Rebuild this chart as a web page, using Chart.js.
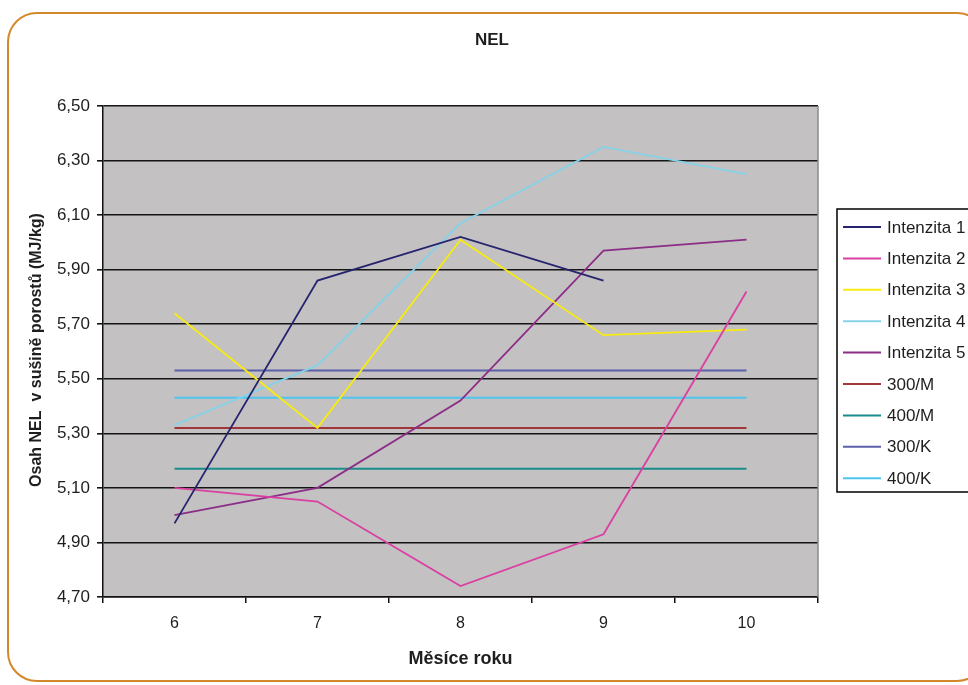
<!DOCTYPE html>
<html>
<head>
<meta charset="utf-8">
<script src="https://cdn.jsdelivr.net/npm/chart.js@4/dist/chart.umd.min.js"></script>
<style>
  html, body { margin: 0; padding: 0; background: #ffffff; overflow: hidden; }
  #wrap { position: relative; width: 968px; height: 685px; overflow: hidden; }
  #frame {
    position: absolute; left: 7px; top: 12px; width: 980px; height: 670px;
    border: 2.5px solid #D4882C; border-radius: 30px; box-sizing: border-box;
  }
  canvas { position: absolute; left: 0; top: 0; }
</style>
</head>
<body>
<div id="wrap">
  <div id="frame"></div>
  <canvas id="c" width="968" height="685"></canvas>
</div>
<script>
// Months of the year
const months = ['6', '7', '8', '9', '10'];

// NEL content per intensity (MJ/kg dry matter)
const intenzita1 = [4.97, 5.86, 6.02, 5.86, null];
const intenzita2 = [5.10, 5.05, 4.74, 4.93, 5.82];
const intenzita3 = [5.74, 5.32, 6.01, 5.66, 5.68];
const intenzita4 = [5.33, 5.55, 6.07, 6.35, 6.25];
const intenzita5 = [5.00, 5.10, 5.42, 5.97, 6.01];

// Reference levels
const ref300M = [5.32, 5.32, 5.32, 5.32, 5.32];
const ref400M = [5.17, 5.17, 5.17, 5.17, 5.17];
const ref300K = [5.53, 5.53, 5.53, 5.53, 5.53];
const ref400K = [5.43, 5.43, 5.43, 5.43, 5.43];

// Y axis range
const yMin = 4.70;
const yMax = 6.50;
const yStep = 0.20;

const FONT = '"Liberation Sans", Arial, sans-serif';
const TEXT = '#1e1e1e';

function ds(label, data, color, width) {
  return {
    label, data, borderColor: color, backgroundColor: color,
    borderWidth: width, pointRadius: 0, pointHoverRadius: 0,
    tension: 0, fill: false, spanGaps: false
  };
}

// Plot background, frame edge, titles and the boxed legend
const decor = {
  id: 'decor',
  beforeDraw(chart) {
    const { ctx, chartArea: a } = chart;
    ctx.save();
    ctx.fillStyle = '#C3C1C1';
    ctx.fillRect(a.left, a.top, a.right - a.left, a.bottom - a.top);
    ctx.restore();
  },
  afterDraw(chart) {
    const { ctx, chartArea: a } = chart;
    ctx.save();
    // right edge of plot area
    ctx.strokeStyle = '#8a8a8a';
    ctx.lineWidth = 1.5;
    ctx.beginPath();
    ctx.moveTo(a.right, a.top);
    ctx.lineTo(a.right, a.bottom);
    ctx.stroke();

    ctx.fillStyle = TEXT;
    ctx.textAlign = 'center';
    ctx.textBaseline = 'middle';
    ctx.font = 'bold 17px ' + FONT;
    ctx.fillText('NEL', 492, 40);
    ctx.font = 'bold 18px ' + FONT;
    ctx.fillText('Měsíce roku', (a.left + a.right) / 2, 659);

    ctx.save();
    ctx.translate(37, 350);
    ctx.rotate(-Math.PI / 2);
    ctx.font = 'bold 16px ' + FONT;
    ctx.fillText('Osah NEL  v sušině porostů (MJ/kg)', 0, 0);
    ctx.restore();

    // legend box
    const lx = 837, ly = 209, lw = 160, lh = 283;
    ctx.fillStyle = '#ffffff';
    ctx.fillRect(lx, ly, lw, lh);
    ctx.strokeStyle = '#000';
    ctx.lineWidth = 1.5;
    ctx.strokeRect(lx, ly, lw, lh);
    ctx.font = '17px ' + FONT;
    ctx.textAlign = 'left';
    chart.data.datasets.forEach((d, i) => {
      const y = 227 + i * 31.4;
      ctx.strokeStyle = d.borderColor;
      ctx.lineWidth = 2;
      ctx.beginPath();
      ctx.moveTo(843, y);
      ctx.lineTo(881, y);
      ctx.stroke();
      ctx.fillStyle = TEXT;
      ctx.fillText(d.label, 887, y + 1);
    });
    ctx.restore();
  }
};

new Chart(document.getElementById('c'), {
  type: 'line',
  data: {
    labels: months,
    datasets: [
      ds('Intenzita 1', intenzita1, '#26246E', 1.8),
      ds('Intenzita 2', intenzita2, '#DA3FA2', 1.8),
      ds('Intenzita 3', intenzita3, '#F7EB12', 1.8),
      ds('Intenzita 4', intenzita4, '#86D2E8', 1.8),
      ds('Intenzita 5', intenzita5, '#8C2D88', 1.8),
      ds('300/M', ref300M, '#A0363A', 2),
      ds('400/M', ref400M, '#1B8C8C', 2),
      ds('300/K', ref300K, '#5C60AA', 2),
      ds('400/K', ref400K, '#4EC4EE', 2)
    ]
  },
  options: {
    responsive: false,
    animation: false,
    devicePixelRatio: 1,
    layout: { padding: { top: 106, right: 150, left: 0, bottom: 0 } },
    plugins: {
      legend: { display: false },
      title: { display: false },
      tooltip: { enabled: false }
    },
    scales: {
      x: {
        type: 'category',
        offset: true,
        afterFit(s) { s.height = 88; },
        grid: {
          offset: true, drawOnChartArea: false, drawTicks: true,
          tickLength: 6, color: '#111', lineWidth: 1.5
        },
        border: { display: true, color: '#111', width: 1.5 },
        ticks: { color: TEXT, font: { family: FONT, size: 16 }, padding: 11, maxRotation: 0 }
      },
      y: {
        min: yMin,
        max: yMax,
        afterFit(s) { s.width = 103; },
        ticks: {
          stepSize: yStep,
          color: TEXT,
          font: { family: FONT, size: 17 },
          padding: 7,
          callback: v => Number(v).toFixed(2).replace('.', ',')
        },
        grid: { color: '#151515', lineWidth: 1.6, tickLength: 6, drawTicks: true },
        border: { display: true, color: '#111', width: 1.5 }
      }
    }
  },
  plugins: [decor]
});
</script>
</body>
</html>
